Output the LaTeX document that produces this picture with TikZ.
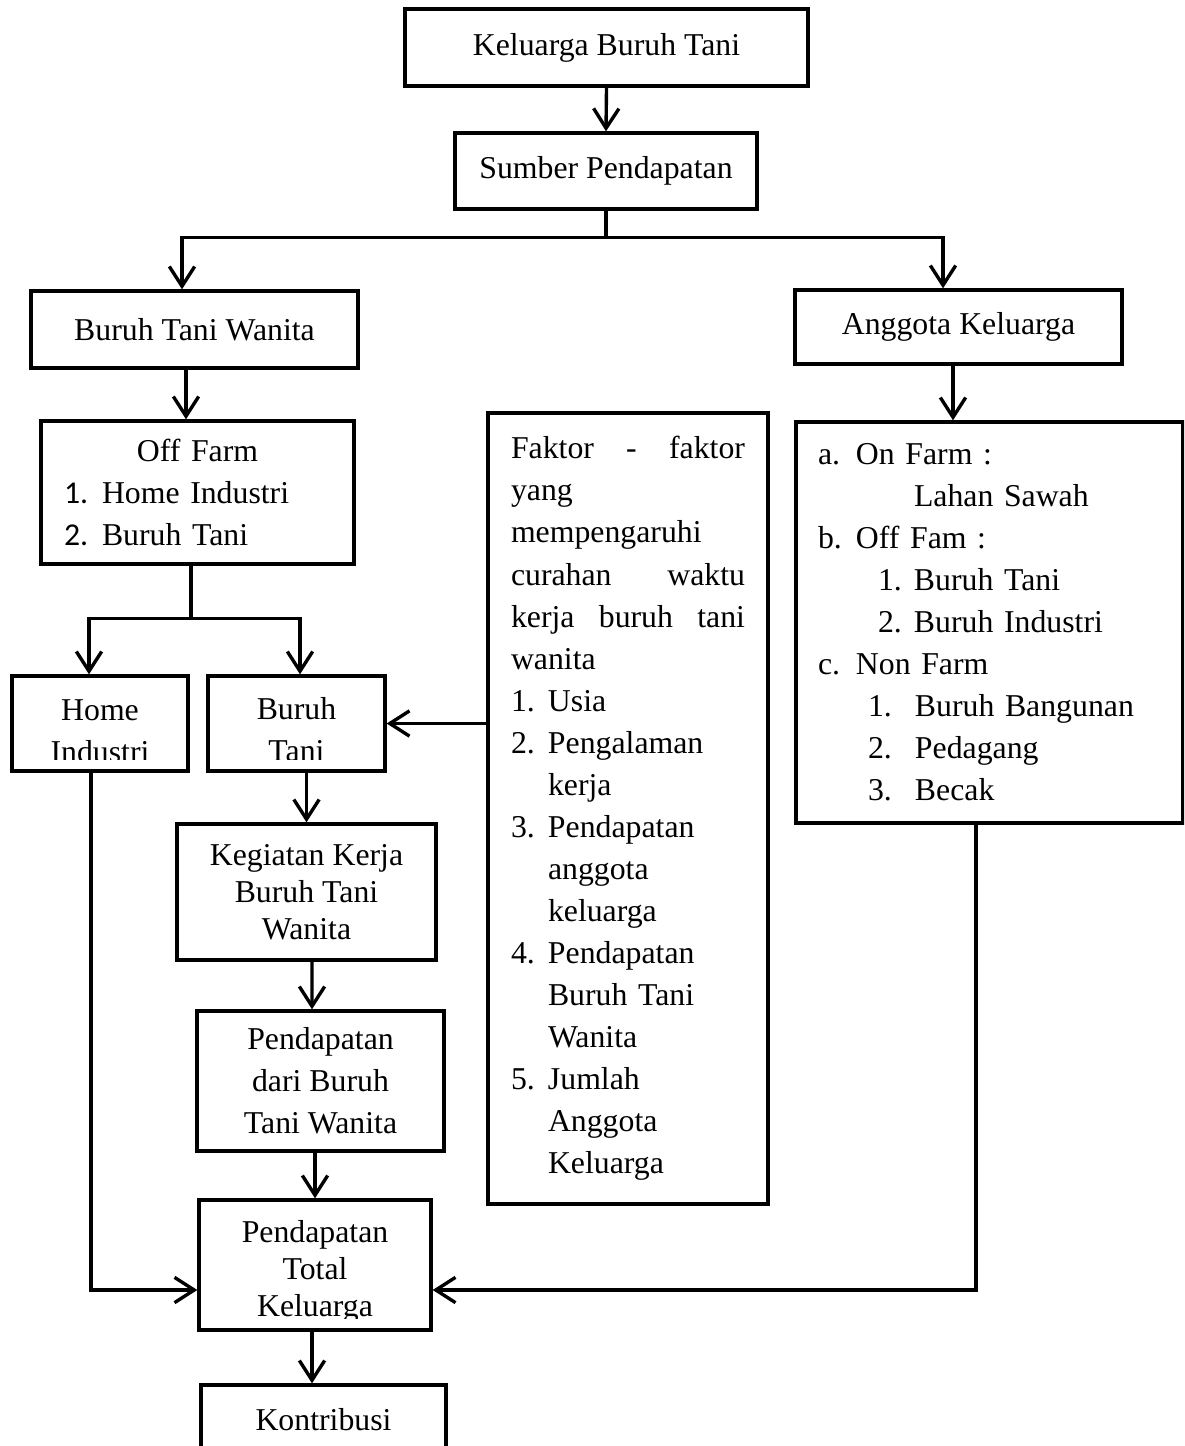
\documentclass[tikz,border=0pt]{standalone}
\usepackage{fontspec}
\setmainfont{Liberation Serif}
\newfontfamily\carlito{Carlito}
\usetikzlibrary{arrows.meta}
\newdimen\pxu \pxu=0.025cm
\newcommand{\numitem}[3]{\hspace*{#1\pxu}\makebox[#2\pxu][l]{#3}}

\begin{document}
\begin{tikzpicture}[x=0.025cm, y=-0.025cm, line width=2.4pt,
    font=\fontsize{22.6}{29.9}\selectfont,
    >={Straight Barb[length=14pt,width=18pt]},
    box/.style={draw, rectangle, align=center},
    txt/.style={align=center, inner sep=0pt},
    tight/.style={font=\fontsize{22.6}{26.2}\selectfont}]
  \clip (0,0) rectangle (1184,1446);
  % top of the chart
  \node[box, minimum width=403\pxu, minimum height=77\pxu] (kbt) at (606.5,47.5) {Keluarga Buruh Tani};
  \node[box, minimum width=302\pxu, minimum height=76\pxu] (sbr) at (606,171) {Sumber Pendapatan};
  \node[box, minimum width=327\pxu, minimum height=77\pxu] (btw) at (194.5,329.5) {Buruh Tani Wanita};
  \node[box, minimum width=327\pxu, minimum height=74\pxu] (agk) at (958.5,327) {Anggota Keluarga};
  % left branch
  \node[box, minimum width=313\pxu, minimum height=143\pxu, text width=267\pxu, align=left] (off) at (197.5,492.5)
    {\hfill Off Farm\hfill\null\\
     \numitem{0}{38}{\carlito 1.}Home Industri\\
     \numitem{0}{38}{\carlito 2.}Buruh Tani};
  \node[box, minimum width=176\pxu, minimum height=95\pxu] (hi) at (100,723.5) {};
  \begin{scope}
    \clip (hi.north west) rectangle ([yshift=13\pxu]hi.south east);
    \node[txt] (hitxt) at (100,731) {Home\\ Industri};
  \end{scope}
  \node[box, minimum width=177\pxu, minimum height=95\pxu] (bt) at (296.5,723.5) {};
  \begin{scope}
    \clip (bt.north west) rectangle ([yshift=13\pxu]bt.south east);
    \node[txt] (bttxt) at (296.5,730) {Buruh\\ Tani};
  \end{scope}
  \node[box, tight, minimum width=259\pxu, minimum height=136\pxu] (keg) at (306.5,892) {Kegiatan Kerja\\ Buruh Tani\\ Wanita};
  \node[box, minimum width=247\pxu, minimum height=140\pxu] (pdb) at (320.5,1081) {Pendapatan\\ dari Buruh\\ Tani Wanita};
  \node[box, minimum width=232\pxu, minimum height=130\pxu] (ptk) at (315,1265) {};
  \begin{scope}
    \clip (ptk.north west) rectangle ([yshift=13\pxu]ptk.south east);
    \node[txt, tight] (ptktxt) at (315,1272) {Pendapatan\\ Total\\ Keluarga};
  \end{scope}
  \node[box, minimum width=245\pxu, minimum height=70\pxu] (kon) at (323.5,1420) {Kontribusi};
  % factors and family members
  \node[box, minimum width=280\pxu, minimum height=791\pxu, text width=234\pxu, align=left] (ft) at (628,808.5)
    {Faktor \hfill - \hfill faktor\\ yang\\ mempengaruhi\\ curahan \hfill waktu\\ kerja \hfill buruh \hfill tani\\ wanita\\
     \numitem{0}{37}{1.}Usia\\
     \numitem{0}{37}{2.}Pengalaman\\ \hspace*{37\pxu}kerja\\
     \numitem{0}{37}{3.}Pendapatan\\ \hspace*{37\pxu}anggota\\ \hspace*{37\pxu}keluarga\\
     \numitem{0}{37}{4.}Pendapatan\\ \hspace*{37\pxu}Buruh Tani\\ \hspace*{37\pxu}Wanita\\
     \numitem{0}{37}{5.}Jumlah\\ \hspace*{37\pxu}Anggota\\ \hspace*{37\pxu}Keluarga};
  \node[box, minimum width=387\pxu, minimum height=401\pxu, text width=343\pxu, align=left] (rl) at (989.5,622.5)
    {\numitem{0}{38}{a.}On Farm :\\ \hspace*{96\pxu}Lahan Sawah\\
     \numitem{0}{38}{b.}Off Fam :\\
     \numitem{60}{36}{1.}Buruh Tani\\ \numitem{60}{36}{2.}Buruh Industri\\
     \numitem{0}{38}{c.}Non Farm\\
     \numitem{50}{47}{1.}Buruh Bangunan\\ \numitem{50}{47}{2.}Pedagang\\ \numitem{50}{47}{3.}Becak};
  % connectors
  \draw[->] (kbt.south) -- (sbr.north);
  \coordinate (split) at ([yshift=-27\pxu]sbr.south);
  \draw[->] (sbr.south) -- (split) -| ([xshift=-12.5\pxu]btw.north);
  \draw[->] (split) -| ([xshift=-15.5\pxu]agk.north);
  \draw[->] ([xshift=-8.5\pxu]btw.south) -- ([xshift=-11.5\pxu]off.north);
  \coordinate (jo) at ([xshift=-6.5\pxu,yshift=-53\pxu]off.south);
  \draw[->] ([xshift=-6.5\pxu]off.south) -- (jo) -| ([xshift=-11\pxu]hi.north);
  \draw[->] (jo) -| ([xshift=3.5\pxu]bt.north);
  \draw[->] (ft.west |- bt.east) -- (bt.east);
  \draw[->] (bt.south -| keg.north) -- (keg.north);
  \draw[->] ([xshift=5.5\pxu]keg.south) -- ([xshift=-8.5\pxu]pdb.north);
  \draw[->] (pdb.south -| ptk.north) -- (ptk.north);
  \draw[->] ([xshift=-9\pxu]hi.south) |- ([yshift=-25\pxu]ptk.west);
  \draw[->] ([xshift=-5.5\pxu]agk.south) -- ([xshift=-36.5\pxu]rl.north);
  \draw[->] ([xshift=-13.5\pxu]rl.south) |- ([yshift=-25\pxu]ptk.east);
  \draw[->] ([xshift=-3\pxu]ptk.south) -- ([xshift=-11.5\pxu]kon.north);
\end{tikzpicture}
\end{document}
